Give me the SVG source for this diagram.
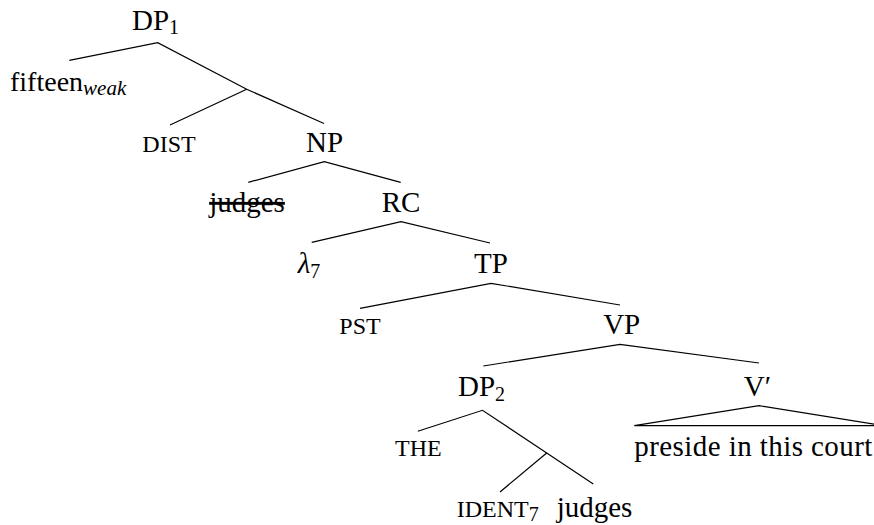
<svg xmlns="http://www.w3.org/2000/svg" width="874" height="525" viewBox="0 0 874 525">
<style>
text{font-family:"Liberation Serif","Times New Roman",serif;fill:#000;font-size:29px}
.sc{font-size:24px}
.sub{font-size:20px}
.m{text-anchor:middle}
.e{fill:none;stroke:#000;stroke-width:1.2}
</style>
<rect width="874" height="525" fill="#fff"/>
<g id="connectors">
<path class="e" d="M69.3,60.3 L157.7,42.7 L246.7,89.3 L324,123.5"/>
<path class="e" d="M170,125 L246.7,89.3"/>
<path class="e" d="M248.3,182.3 L324.3,161.7 L400.7,182.3"/>
<path class="e" d="M311.7,242.3 L401,221.7 L490,243"/>
<path class="e" d="M360,308.3 L491,283.3 L620,305"/>
<path class="e" d="M483.3,366 L620,344.3 L759,363"/>
<path class="e" d="M417.8,431.3 L482.5,410.3 L546.7,453 L593.3,484"/>
<path class="e" d="M500,492 L546.7,453"/>
<path class="e" d="M634.3,425.7 L759,405.7 L884,425.7 Z"/>
</g>
<g id="DP1"><text x="132" y="29.5">DP<tspan class="sub" dy="4.5">1</tspan></text></g>
<g id="fifteen"><text x="10" y="90.5" style="font-size:28px">fifteen<tspan dy="4" style="font-size:21px;font-style:italic">weak</tspan></text></g>
<g id="DIST"><text class="sc m" x="169" y="151.7">DIST</text></g>
<g id="NP"><text class="m" x="324.5" y="151.7">NP</text></g>
<g id="judges1"><text class="m" x="247" y="212" text-decoration="line-through">judges</text></g>
<g id="RC"><text class="m" x="401" y="212">RC</text></g>
<g id="lambda7"><text x="297.7" y="273.3"><tspan font-style="italic">λ</tspan><tspan class="sub" dy="5">7</tspan></text></g>
<g id="TP"><text class="m" x="491" y="273.3">TP</text></g>
<g id="PST"><text class="sc m" x="360" y="334">PST</text></g>
<g id="VP"><text class="m" x="621.7" y="334.3">VP</text></g>
<g id="DP2"><text x="458" y="396">DP<tspan class="sub" dy="4.5">2</tspan></text></g>
<g id="Vbar"><text class="m" x="757.5" y="395.5">V′</text></g>
<g id="THE"><text class="sc m" x="418.3" y="456">THE</text></g>
<g id="preside"><text x="634.3" y="456" textLength="238" lengthAdjust="spacing">preside in this court</text></g>
<g id="IDENT7"><text class="sc" x="456.7" y="517">IDENT<tspan class="sub" dy="4">7</tspan></text></g>
<g id="judges2"><text x="556.7" y="517">judges</text></g>
</svg>
